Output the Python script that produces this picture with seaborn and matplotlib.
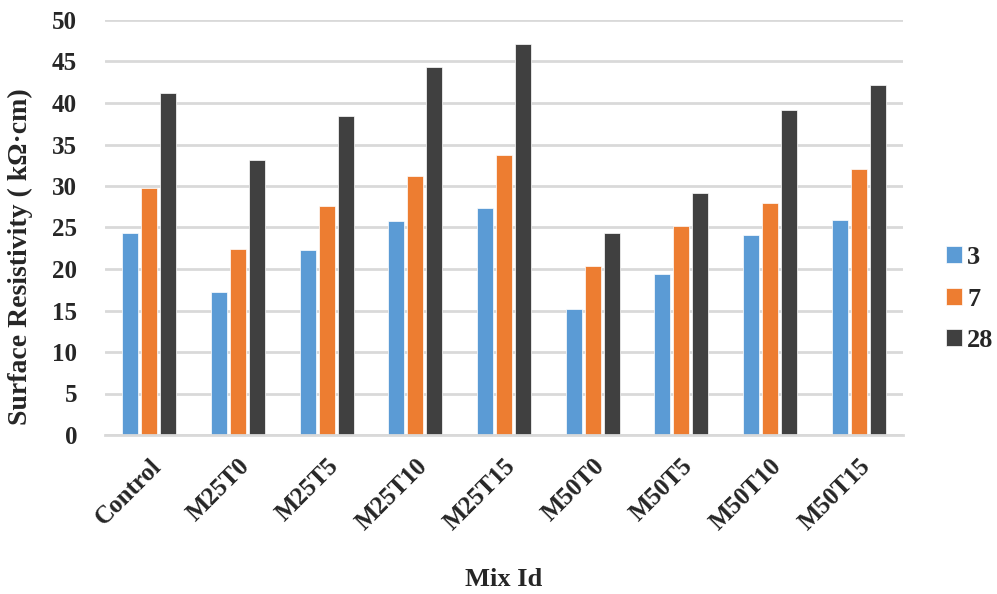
import matplotlib
matplotlib.use("Agg")
import matplotlib.pyplot as plt
import seaborn as sns
import pandas as pd

mixes = ["Control", "M25T0", "M25T5", "M25T10", "M25T15", "M50T0", "M50T5", "M50T10", "M50T15"]
ages = ["3", "7", "28"]
day3 = [24.3, 17.2, 22.3, 25.8, 27.3, 15.2, 19.4, 24.1, 25.9]
day7 = [29.7, 22.4, 27.6, 31.2, 33.7, 20.4, 25.2, 28.0, 32.0]
day28 = [41.2, 33.1, 38.4, 44.3, 47.1, 24.3, 29.2, 39.1, 42.2]
colors = ["#5B9BD5", "#ED7D31", "#404040"]

rows = []
for series, age in zip([day3, day7, day28], ages):
    for m, v in zip(mixes, series):
        rows.append({"Mix": m, "Age": age, "Value": v})
df = pd.DataFrame(rows)

sns.set_theme(style="white")
plt.rcParams["font.family"] = ["Liberation Serif", "DejaVu Serif"]
plt.rcParams["font.weight"] = "bold"

fig = plt.figure(figsize=(9.97, 5.94), dpi=100)
ax = fig.add_axes([105 / 997, 1 - 435 / 594, (903 - 105) / 997, (435 - 20) / 594])

sns.barplot(data=df, x="Mix", y="Value", hue="Age", hue_order=ages, order=mixes,
            palette=colors, width=0.64, gap=0.16, ax=ax, saturation=1,
            edgecolor="white", linewidth=0.5, legend=True)

ax.set_ylim(0, 50)
ax.set_yticks(range(0, 51, 5))
ax.set_xlim(-0.5, len(mixes) - 0.5)
ax.yaxis.grid(True, color="#D9D9D9", linewidth=2)
ax.set_axisbelow(True)
for s in ["top", "right", "left"]:
    ax.spines[s].set_visible(False)
ax.spines["bottom"].set_color("#D9D9D9")
ax.spines["bottom"].set_linewidth(2)
ax.tick_params(axis="both", length=0)
ax.tick_params(axis="y", labelsize=18, pad=20)
ax.tick_params(axis="x", labelsize=18, pad=14)
for lbl in ax.get_yticklabels():
    lbl.set_fontweight("bold")
for lbl in ax.get_xticklabels():
    lbl.set_fontweight("bold")
    lbl.set_rotation(45)
    lbl.set_ha("right")
    lbl.set_rotation_mode("anchor")

ax.set_xlabel("Mix Id", fontsize=19, fontweight="bold")
ax.xaxis.set_label_coords(0.5, -(568 - 435) / 415)
ax.set_ylabel("Surface Resistivity ( kΩ·cm)", fontsize=20, fontweight="bold")
ax.yaxis.set_label_coords(-(105 - 33) / 798, (435 - 257) / 415)

leg = ax.legend(loc="center left", bbox_to_anchor=(946 / 997, 295 / 594),
                bbox_transform=fig.transFigure, frameon=False, title=None,
                prop={"size": 19, "weight": "bold"}, handlelength=0.6, handleheight=0.6,
                handletextpad=0.2, labelspacing=0.7, borderpad=0, borderaxespad=0)

fig.savefig("out.png", dpi=100)
